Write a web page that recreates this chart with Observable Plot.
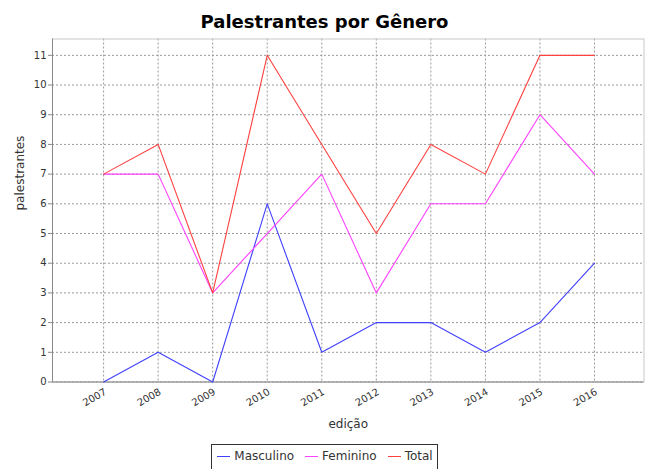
<!DOCTYPE html>
<html><head><meta charset="utf-8">
<script src="https://cdn.jsdelivr.net/npm/d3@7"></script>
<script src="https://cdn.jsdelivr.net/npm/@observablehq/plot@0.6"></script>
<style>
body{margin:0;background:#fff;font-family:"DejaVu Sans",sans-serif;}
#wrap{width:649px;height:469px;overflow:hidden;background:#fff;}
#title{height:22px;padding-top:11px;line-height:22px;text-align:center;font-weight:bold;font-size:18px;color:#000;}
#chart svg{display:block;}
#legend{margin-top:0;text-align:center;height:30px;line-height:0;}
#legend .box{display:inline-flex;align-items:center;border:1px solid #333;padding:3px 4px 5px 5px;font-size:12px;color:#333;line-height:16px;}
#legend .item{display:inline-flex;align-items:center;margin-right:11px;}
#legend .item:last-child{margin-right:0;}
#legend .sw{display:inline-block;width:13px;height:1px;margin-right:4px;}
</style></head>
<body>
<div id="wrap">
<div id="title">Palestrantes por Gênero</div>
<div id="chart"></div>
<div id="legend"></div>
</div>
<script>
const years = [2007, 2008, 2009, 2010, 2011, 2012, 2013, 2014, 2015, 2016];
const masculino = [0, 1, 0, 6, 1, 2, 2, 1, 2, 4];
const feminino = [7, 7, 3, 5, 7, 3, 6, 6, 9, 7];
const total = [7, 8, 3, 11, 8, 5, 8, 7, 11, 11];
const seriesNames = ["Masculino", "Feminino", "Total"];
const seriesColors = ["#4040ff", "#ff40ff", "#ff4040"];
const yTicks = [0, 1, 2, 3, 4, 5, 6, 7, 8, 9, 10, 11];
const xDomain = [2006.063, 2016.908];
const yDomain = [0, 11.55];

const seriesValues = [masculino, feminino, total];
const data = [];
seriesNames.forEach((name, s) => {
  years.forEach((yr, i) => data.push({year: yr, value: seriesValues[s][i], serie: name}));
});

const chart = Plot.plot({
  width: 649,
  height: 411,
  marginTop: 5.5,
  marginBottom: 62.5,
  marginLeft: 52,
  marginRight: 5.5,
  style: {fontFamily: "DejaVu Sans", fontSize: "10px", color: "#333", background: "white"},
  x: {type: "linear", domain: xDomain},
  y: {type: "linear", domain: yDomain},
  color: {domain: seriesNames, range: seriesColors},
  marks: [
    Plot.gridY(yTicks, {stroke: "#999", strokeOpacity: 1, strokeDasharray: "2,2"}),
    Plot.gridX(years, {stroke: "#999", strokeOpacity: 1, strokeDasharray: "2,2"}),
    Plot.frame({stroke: "#c8c8c8"}),
    Plot.ruleY([yDomain[0]], {stroke: "#888"}),
    Plot.ruleX([xDomain[0]], {stroke: "#888"}),
    Plot.axisY(yTicks, {tickSize: 4, tickPadding: 2, tickFormat: d => String(d), label: null, stroke: "#888"}),
    Plot.axisX(years, {tickSize: 0, tickPadding: 9, tickRotate: -30, tickFormat: d => String(d), label: null, dx: 2}),
    Plot.text(["palestrantes"], {frameAnchor: "left", dx: -32, rotate: -90, fontSize: 12, fill: "#333"}),
    Plot.text(["edição"], {frameAnchor: "bottom", dy: 46, fontSize: 12, fill: "#333"}),
    Plot.lineY(data, {x: "year", y: "value", stroke: "serie", strokeWidth: 1.1})
  ]
});
document.getElementById("chart").appendChild(chart);

const box = document.createElement("div");
box.className = "box";
seriesNames.forEach((name, i) => {
  const it = document.createElement("span");
  it.className = "item";
  const sw = document.createElement("span");
  sw.className = "sw";
  sw.style.background = seriesColors[i];
  it.appendChild(sw);
  it.appendChild(document.createTextNode(name));
  box.appendChild(it);
});
document.getElementById("legend").appendChild(box);
</script>
</body></html>
